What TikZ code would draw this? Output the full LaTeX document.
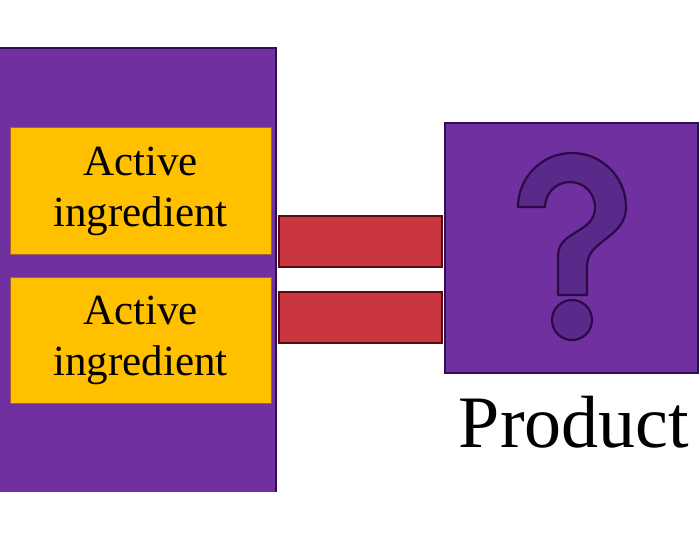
\documentclass[tikz,border=0pt]{standalone}
\usepackage{fontspec}
\setmainfont{Liberation Serif}
\definecolor{panelpurple}{HTML}{7030A0}
\definecolor{ingyellow}{HTML}{FFC000}
\definecolor{barred}{HTML}{C9363F}
\definecolor{qfill}{HTML}{5A2A8A}
\definecolor{qline}{HTML}{2A0A48}
\definecolor{edgedark}{HTML}{2E1050}
\definecolor{baredge}{HTML}{5A0A12}
\definecolor{ingedge}{HTML}{A0603A}
\begin{document}
\begin{tikzpicture}[x=1pt,y=-1pt,
  panel/.style={fill=panelpurple,draw=none,inner sep=0pt,minimum width=276pt,minimum height=444pt},
  ingbox/.style={fill=ingyellow,draw=ingedge,line width=1pt,inner sep=0pt,minimum width=261pt,minimum height=126pt,
     align=center,font=\fontsize{43}{51}\selectfont},
  barbox/.style={fill=barred,draw=baredge,line width=2pt,inner sep=0pt,minimum width=163pt,minimum height=51pt},
  prodbox/.style={fill=panelpurple,draw=edgedark,line width=2pt,inner sep=0pt,minimum width=253pt,minimum height=250pt},
  qmark/.style={fill=qfill,draw=qline,line width=2.2pt,line join=round},
  label/.style={font=\fontsize{74}{84}\selectfont,inner sep=0pt,anchor=base}]
\useasboundingbox (0,0) rectangle (700,540);
% left panel
\node[panel] (panel) at (138,270) {};
\draw[edgedark,line width=2pt] (panel.north west) -- (panel.north east) -- (panel.south east);
% ingredient boxes
\node[ingbox] (ing1) at (140.5,191) {Active\\ingredient};
\node[ingbox] (ing2) at (140.5,340) {Active\\ingredient};
% product box
\node[prodbox] (prod) at (571.5,248) {};
% bars between panel and product
\node[barbox] (bar1) at (360.5,241) {};
\node[barbox] (bar2) at (360.5,317.5) {};
% question mark
\path[qmark] (518,207) arc[start angle=180,end angle=360,radius=54]
  .. controls (626,238) and (587,240) .. (587,266) -- (587,295) -- (558,295) -- (558,256)
  .. controls (558,230) and (595,234) .. (595,207)
  arc[start angle=360,end angle=180,radius=25] -- cycle;
\path[qmark] (572,320) circle[radius=20];
% label
\node[label] (plabel) at (574,447) {Product};
\end{tikzpicture}
\end{document}
